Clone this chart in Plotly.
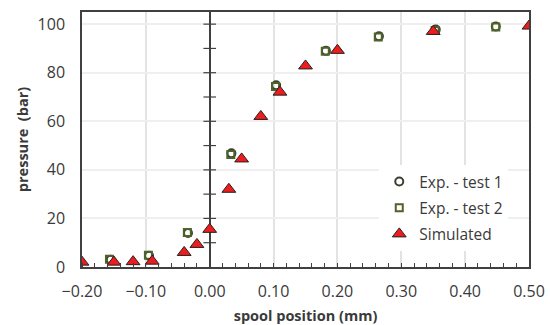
import plotly.graph_objects as go

# Data
exp1_x = [-0.155, -0.095, -0.034, 0.034, 0.104, 0.182, 0.265, 0.354, 0.448]
exp1_y = [3.0, 4.6, 14.0, 46.8, 74.8, 89.0, 95.0, 97.8, 99.0]
exp2_x = [-0.157, -0.096, -0.035, 0.033, 0.103, 0.181, 0.264, 0.353, 0.448]
exp2_y = [3.2, 4.8, 14.2, 46.3, 74.3, 88.8, 94.7, 97.4, 98.8]
sim_x = [-0.20, -0.15, -0.12, -0.09, -0.04, -0.02, 0.00, 0.03, 0.05, 0.08, 0.11, 0.15, 0.20, 0.35, 0.50]
sim_y = [2.0, 2.0, 2.2, 2.4, 6.0, 9.3, 15.5, 32.0, 44.5, 62.0, 72.0, 82.8, 89.2, 97.0, 99.2]

x_ticks = [-0.2, -0.1, 0.0, 0.1, 0.2, 0.3, 0.4, 0.5]
y_ticks = [0, 20, 40, 60, 80, 100]
y_cross_ticks = [10, 20, 30, 40, 50, 60, 70, 80, 90, 100]  # tick marks on the axis through x = 0

FONT = "Open Sans"
TXT = "#3a3a3a"
AX = "#404040"
GRID = "#e3e3e3"

fig = go.Figure()
# cross tick marks on the vertical axis at x = 0
fig.add_trace(go.Scatter(x=[0] * len(y_cross_ticks), y=y_cross_ticks, mode="markers",
                         showlegend=False, hoverinfo="skip",
                         marker=dict(symbol="line-ew", size=9, line=dict(width=1.2, color=AX))))
fig.add_trace(go.Scatter(x=exp1_x, y=exp1_y, mode="markers", name="Exp. - test 1", legendgroup="a",
                         marker=dict(symbol="circle-open", size=8, color="#3b3f33",
                                     line=dict(width=2, color="#3b3f33"))))
fig.add_trace(go.Scatter(x=exp2_x, y=exp2_y, mode="markers", name="Exp. - test 2", legendgroup="b",
                         marker=dict(symbol="square-open", size=7, color="#4f6228",
                                     line=dict(width=2, color="#4f6228"))))
fig.add_trace(go.Scatter(x=sim_x, y=sim_y, mode="markers", name="Simulated", legendgroup="c",
                         marker=dict(symbol="triangle-up", size=12, color="#ee1c1c",
                                     line=dict(width=1, color="#222222"))))

fig.update_layout(
    width=550, height=325,
    margin=dict(l=82, r=21, t=12, b=58),
    paper_bgcolor="white", plot_bgcolor="white",
    font=dict(family=FONT, size=16, color=TXT),
    showlegend=True,
    legend=dict(x=0.665, y=0.40, xanchor="left", yanchor="top",
                bgcolor="white", borderwidth=0, font=dict(size=15.5, color=TXT),
                tracegroupgap=3, traceorder="grouped", itemwidth=30),
    xaxis=dict(range=[x_ticks[0], x_ticks[-1]], tickvals=x_ticks, tickformat=".2f",
               showgrid=True, gridcolor=GRID, gridwidth=1.5, automargin=False,
               zeroline=True, zerolinecolor=AX, zerolinewidth=1.5,
               showline=True, linecolor=AX, linewidth=1.5, mirror=True,
               ticks="", ticklen=0, ticklabelstandoff=9,
               minor=dict(dtick=0.02, tick0=-0.2, ticks="inside", ticklen=4, tickcolor=AX, showgrid=False),
               title=dict(text="<b>spool position (mm)</b>", font=dict(size=14.5, color=TXT), standoff=13),
               tickfont=dict(size=16, color=TXT)),
    yaxis=dict(range=[0, 105], tickvals=y_ticks, automargin=False,
               showgrid=True, gridcolor="#efefef", gridwidth=1.5,
               zeroline=False, showline=True, linecolor=AX, linewidth=1.5, mirror=True,
               ticks="", ticklabelstandoff=12,
               title=dict(text="<b>pressure  (bar)</b>", font=dict(size=14.5, color=TXT), standoff=6),
               tickfont=dict(size=16, color=TXT)),
)

fig.write_html("out.html")
